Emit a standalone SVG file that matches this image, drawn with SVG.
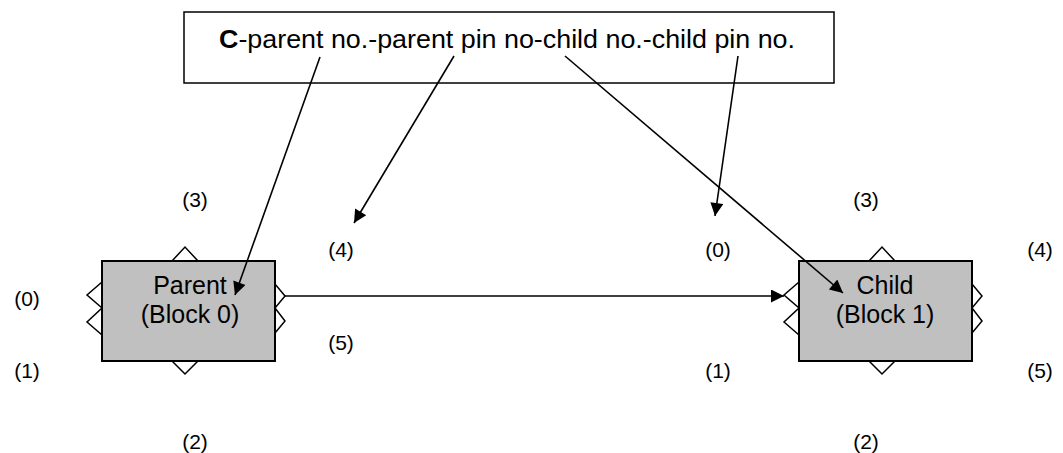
<svg xmlns="http://www.w3.org/2000/svg" width="1063" height="453" viewBox="0 0 1063 453">
<defs>
<marker id="ah" viewBox="0 0 10 10" refX="10" refY="5" markerWidth="17" markerHeight="13" markerUnits="userSpaceOnUse" orient="auto">
<path d="M0,0 L10,5 L0,10 z" fill="#000"/>
</marker>
<style>
.blk{fill:#c0c0c0;stroke:#000;stroke-width:2}
.pin{fill:none;stroke:#000;stroke-width:1.5}
.t{font-family:"Liberation Sans",Arial,sans-serif;font-size:25px;fill:#000}
.lbl{font-family:"Liberation Sans",Arial,sans-serif;font-size:21px;fill:#000}
.c{stroke:#000;stroke-width:1.6;fill:none;marker-end:url(#ah)}
</style>
</defs>
<rect width="1063" height="453" fill="#fff"/>
<g id="legend">
<rect x="184" y="12" width="650" height="71" fill="#fff" stroke="#000" stroke-width="1.5"/>
<text class="t" x="219" y="48" font-size="24" textLength="576" lengthAdjust="spacingAndGlyphs"><tspan font-weight="bold">C</tspan>-parent no.-parent pin no-child no.-child pin no.</text>
</g>
<g id="parent">
<polyline class="pin" points="102,282 87,295 102,308 87,322 102,335"/>
<polyline class="pin" points="275,284 285,296 275,308 285,321 275,333"/>
<polyline class="pin" points="172,261 185,247 198,261"/>
<polyline class="pin" points="172,361 185,374 198,361"/>
<rect class="blk" x="102" y="261" width="173" height="100"/>
<text class="t" x="190" y="294" text-anchor="middle">Parent</text>
<text class="t" x="190" y="323" text-anchor="middle">(Block 0)</text>
</g>
<g id="child">
<polyline class="pin" points="799,282 784,295 799,308 784,322 799,335"/>
<polyline class="pin" points="972,284 982,296 972,308 982,321 972,333"/>
<polyline class="pin" points="869,261 882,247 895,261"/>
<polyline class="pin" points="869,361 882,374 895,361"/>
<rect class="blk" x="799" y="261" width="173" height="100"/>
<text class="t" x="885" y="294" text-anchor="middle">Child</text>
<text class="t" x="885" y="323" text-anchor="middle">(Block 1)</text>
</g>
<g id="labels">
<text class="lbl" x="195" y="207" text-anchor="middle">(3)</text>
<text class="lbl" x="341" y="257" text-anchor="middle">(4)</text>
<text class="lbl" x="27" y="306" text-anchor="middle">(0)</text>
<text class="lbl" x="341" y="350" text-anchor="middle">(5)</text>
<text class="lbl" x="27" y="378" text-anchor="middle">(1)</text>
<text class="lbl" x="195" y="449" text-anchor="middle">(2)</text>
<text class="lbl" x="866" y="207" text-anchor="middle">(3)</text>
<text class="lbl" x="1040" y="257" text-anchor="middle">(4)</text>
<text class="lbl" x="718" y="257" text-anchor="middle">(0)</text>
<text class="lbl" x="718" y="378" text-anchor="middle">(1)</text>
<text class="lbl" x="1040" y="378" text-anchor="middle">(5)</text>
<text class="lbl" x="866" y="449" text-anchor="middle">(2)</text>
</g>
<g id="connectors">
<line class="c" x1="285" y1="296" x2="784" y2="296"/>
<line class="c" x1="320" y1="57" x2="235" y2="295"/>
<line class="c" x1="454" y1="56" x2="354" y2="223"/>
<line class="c" x1="565" y1="56" x2="843" y2="293"/>
<line class="c" x1="738" y1="56" x2="715" y2="216"/>
</g>
</svg>
